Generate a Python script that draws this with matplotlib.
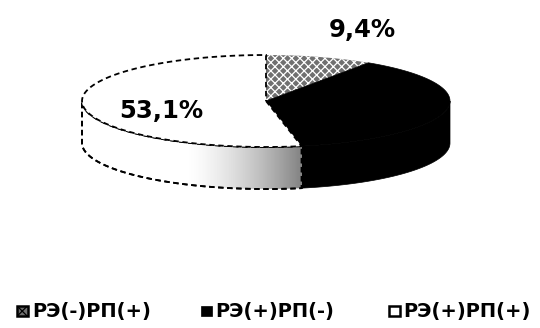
import numpy as np
import matplotlib
matplotlib.use('Agg')
import matplotlib.pyplot as plt
from matplotlib.patches import Polygon, Rectangle

# Доли групп, %
labels = ['РЭ(-)РП(+)', 'РЭ(+)РП(-)', 'РЭ(+)РП(+)']
shares = [9.4, 37.5, 53.1]
shown = ['9,4%', None, '53,1%']

plt.rcParams['hatch.linewidth'] = 0.9

# геометрия объёмной диаграммы (в пикселях)
cx, cy = 266, 101
a, b = 184, 46
depth = 42


def arc(t1, t2, dy=0, n=80):
    t = np.radians(np.linspace(t1, t2, n))
    return np.column_stack([cx + a * np.sin(t), cy - b * np.cos(t) + dy])


fig = plt.figure(figsize=(5.4, 3.28), dpi=100)
ax = fig.add_axes([0, 0, 1, 1])
ax.set_xlim(0, 540)
ax.set_ylim(328, 0)
ax.axis('off')

bounds = np.concatenate([[0], np.cumsum(shares)]) / 100 * 360

styles = [
    dict(facecolor='#707070', edgecolor='white', hatch='xxxx', linewidth=0),
    dict(facecolor='black', edgecolor='black', linewidth=0.5),
    dict(facecolor='white', edgecolor='black', linewidth=1.3, linestyle=(0, (3, 2))),
]

# боковые стенки (видна только передняя половина)
for i in range(3):
    t1, t2 = max(bounds[i], 90), min(bounds[i + 1], 270)
    if t1 >= t2:
        continue
    pts = np.vstack([arc(t1, t2), arc(t1, t2, depth)[::-1]])
    side = Polygon(pts, closed=True, **styles[i])
    ax.add_patch(side)
    if i == 2:
        # тень на белом секторе у границы с чёрным
        grad = np.zeros((2, 200, 4))
        grad[..., :3] = 0.35
        grad[..., 3] = np.linspace(0, 0.85, 200) ** 1.5
        im = ax.imshow(grad, extent=(185, 305, cy + depth + b, cy + b - 20),
                       aspect='auto', zorder=2, interpolation='bilinear')
        im.set_clip_path(side)
        ax.add_patch(Polygon(pts, closed=True, facecolor='none',
                             edgecolor='black', linewidth=1.3,
                             linestyle=(0, (3, 2)), zorder=3))

# верхние грани секторов
for i in range(3):
    pts = np.vstack([[cx, cy], arc(bounds[i], bounds[i + 1])])
    ax.add_patch(Polygon(pts, closed=True, zorder=4, **styles[i]))

# подписи долей
label_pos = [(362, 30), None, (161, 111)]
for txt, pos in zip(shown, label_pos):
    if txt:
        ax.text(pos[0], pos[1], txt, fontsize=17.5, fontweight='bold',
                family='DejaVu Sans', ha='center', va='center', zorder=6)

# легенда
marker_x = [17, 201, 389]
text_x = [32, 215, 403]
for i, (x0, tx, lab) in enumerate(zip(marker_x, text_x, labels)):
    st = dict(styles[i])
    st.pop('linestyle', None)
    st['edgecolor'] = 'black'
    st['linewidth'] = 1.8 if i != 1 else 0.5
    if i == 0:
        st['hatch'] = 'xxx'
    ax.add_patch(Rectangle((x0, 306), 11, 10, zorder=5, **st))
    ax.text(tx, 311, lab, fontsize=14, fontweight='bold',
            family='DejaVu Sans', ha='left', va='center')

fig.savefig('out.png', dpi=100)
